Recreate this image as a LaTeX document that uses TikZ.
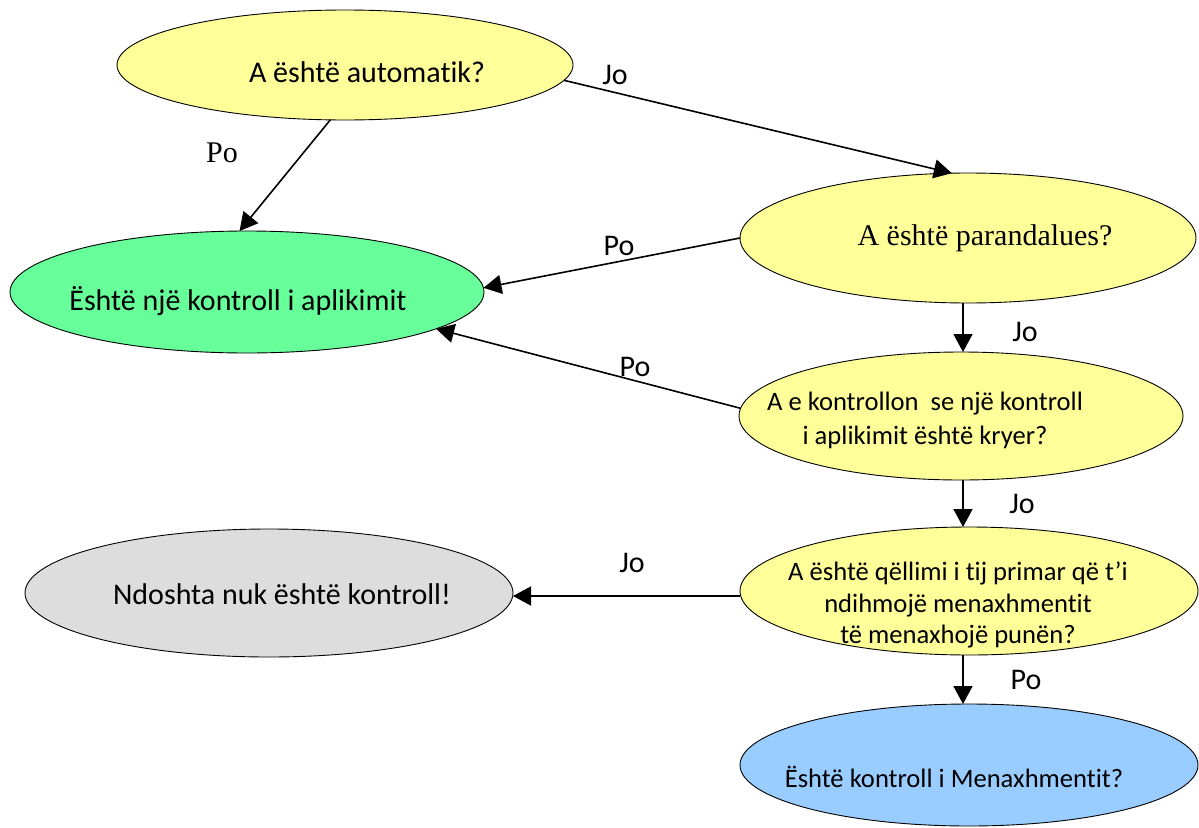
\documentclass[tikz,border=0pt]{standalone}
\usepackage{fontspec}
\setmainfont{Carlito}[Ligatures={NoCommon}]
\newfontfamily\timesfont{Liberation Serif}
\usetikzlibrary{shapes.geometric,arrows.meta}
\definecolor{qyellow}{HTML}{FFFF99}
\definecolor{qgreen}{HTML}{66FF99}
\definecolor{qgray}{HTML}{DDDDDD}
\definecolor{qblue}{HTML}{99CCFF}
\tikzset{
  oval/.style={ellipse, draw=black, line width=0.9pt, inner sep=0pt, outer sep=0pt},
  txt/.style={font=\fontsize{30}{33}\selectfont, align=center, inner sep=0pt},
  smalltxt/.style={font=\fontsize{26.6}{33}\selectfont, align=center, inner sep=0pt},
  lbl/.style={font=\fontsize{30}{33}\selectfont, inner sep=0pt},
  arr/.style={line width=1.6pt, -{Triangle[length=18pt,width=19pt]}}
}
\begin{document}
\begin{tikzpicture}[x=1pt,y=-1pt]
\useasboundingbox (0,0) rectangle (1199,827);
% ellipses
\node[oval, fill=qyellow, minimum width=456pt, minimum height=110pt] (e1) at (345,65) {};
\node[oval, fill=qgreen,  minimum width=474pt, minimum height=122pt] (e2) at (247,292) {};
\node[oval, fill=qyellow, minimum width=456pt, minimum height=130pt] (e3) at (968,238) {};
\node[oval, fill=qyellow, minimum width=444pt, minimum height=128pt] (e4) at (961,416) {};
\node[oval, fill=qyellow, minimum width=458pt, minimum height=128pt] (e5) at (969,591) {};
\node[oval, fill=qblue,   minimum width=458pt, minimum height=122pt] (e6) at (969,765) {};
\node[oval, fill=qgray,   minimum width=488pt, minimum height=128pt] (e7) at (269,593) {};
% texts
\node[txt] (t1) at (367,72) {A është automatik?};
\node[txt] (t2) at (238,301) {Është një kontroll i aplikimit};
\node[txt, font=\timesfont\fontsize{30}{33}\selectfont] (t3) at (985,238) {A është parandalues?};
\node[smalltxt, font=\fontsize{26.6}{34}\selectfont] (t4) at (925,420) {A e kontrollon\ \ se një kontroll\\i aplikimit është kryer?};
\node[smalltxt, font=\fontsize{26.6}{31.5}\selectfont] (t5) at (958,605) {A është qëllimi i tij primar që t’i\\ndihmojë menaxhmentit\\të menaxhojë punën?};
\node[smalltxt] (t6) at (954,777) {Është kontroll i Menaxhmentit?};
\node[txt] (t7) at (282,594) {Ndoshta nuk është kontroll!};
% connectors
\draw[arr] (e1.-4) -- (e3.104);
\draw[arr] (e1.255) -- (e2.97);
\draw[arr] (e3.180) -- (e2.1);
\draw[arr] (e4.178) -- (e2.-11);
\draw[arr] ([xshift=-5pt]e3.south) -- ([xshift=2pt]e4.north);
\draw[arr] ([xshift=2pt]e4.south) -- ([xshift=-6pt]e5.north);
\draw[arr] ([xshift=-6pt]e5.south) -- ([xshift=-6pt]e6.north);
\draw[arr] ([yshift=-5pt]e5.west) -- ([yshift=-3pt]e7.east);
% labels
\node[lbl] (l1) at (615,75) {Jo};
\node[lbl, font=\timesfont\fontsize{30}{33}\selectfont] (l2) at (222,153) {Po};
\node[lbl] (l3) at (619,246) {Po};
\node[lbl] (l4) at (635,367) {Po};
\node[lbl] (l5) at (1025,332) {Jo};
\node[lbl] (l6) at (1022,504) {Jo};
\node[lbl] (l7) at (1026,680) {Po};
\node[lbl] (l8) at (632,563) {Jo};
\end{tikzpicture}
\end{document}
